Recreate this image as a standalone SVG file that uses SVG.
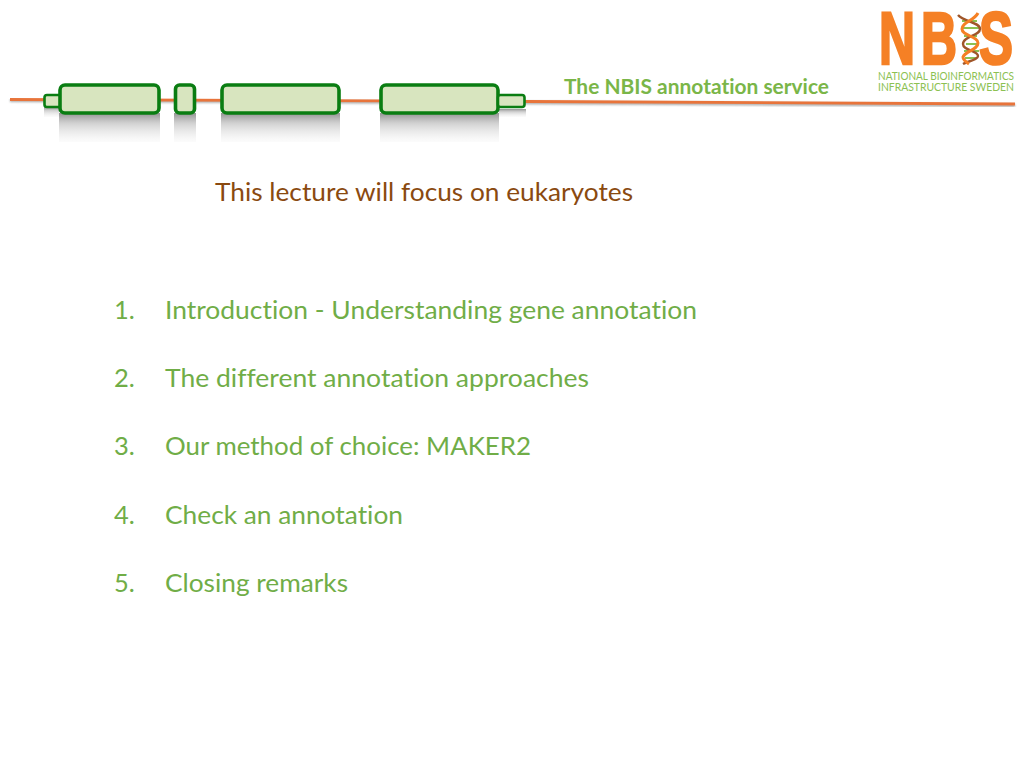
<svg xmlns="http://www.w3.org/2000/svg" width="1024" height="768" viewBox="0 0 1024 768">
<style>
text{font-variant-ligatures:none}
.item{font-family:Lato,"Open Sans","Liberation Sans",sans-serif;font-size:25.5px;fill:#70ad47}
.exon{fill:#d8e5bf;stroke:#0a7d12;stroke-width:3.6}
.utr{fill:#d8e5bf;stroke:#0a7d12;stroke-width:2.6}
.ref{fill:url(#refl)}
.tag{font-family:Lato,"Open Sans","Liberation Sans",sans-serif;font-size:11px;fill:#8cc152}
.big{font-family:"Liberation Sans",sans-serif;font-weight:700;font-size:74px;fill:#f58025;stroke:#f58025;stroke-width:2.6}
</style>
<defs>
<linearGradient id="refl" x1="0" y1="0" x2="0" y2="1">
<stop offset="0" stop-color="#808080" stop-opacity=".85"/>
<stop offset=".35" stop-color="#b8b8b8" stop-opacity=".65"/>
<stop offset="1" stop-color="#e8e8e8" stop-opacity=".15"/>
</linearGradient>
<filter id="soft" x="-5%" y="-20%" width="110%" height="140%"><feGaussianBlur stdDeviation="0.8"/></filter>
</defs>
<rect width="1024" height="768" fill="#fff"/>
<g id="rule">
<path d="M10 100.500L530 102.800L1015 105.500" fill="none" stroke="#aaa" stroke-width="3" filter="url(#soft)"/>
<path d="M10 99.500L530 101.500L1015 104" fill="none" stroke="#e8743b" stroke-width="2.800"/>
</g>
<g id="reflections">
<rect class="ref" x="59" y="113" width="101" height="29"/>
<rect class="ref" x="174" y="113" width="22" height="29"/>
<rect class="ref" x="221" y="113" width="119" height="29"/>
<rect class="ref" x="380" y="113" width="119" height="29"/>
<rect class="ref" x="44" y="107" width="15" height="10"/>
<rect class="ref" x="499" y="109" width="27" height="8"/>
</g>
<g id="gene">
<rect id="utr-left" class="utr" x="44.500" y="95" width="18" height="12" rx="2.500"/>
<rect id="exon-1" class="exon" x="60" y="85" width="99" height="28" rx="5"/>
<rect id="exon-2" class="exon" x="175.500" y="85" width="19" height="28" rx="4"/>
<rect id="exon-3" class="exon" x="222" y="85" width="117" height="28" rx="5"/>
<rect id="exon-4" class="exon" x="381" y="85" width="117" height="28" rx="5"/>
<rect id="utr-right" class="utr" x="498" y="95" width="26.500" height="12" rx="2.500"/>
</g>
<g id="logo">
<text class="big" x="879" y="64" textLength="36" lengthAdjust="spacingAndGlyphs">N</text>
<text class="big" x="921" y="64" textLength="36" lengthAdjust="spacingAndGlyphs">B</text>
<text class="big" x="979" y="64" textLength="34" lengthAdjust="spacingAndGlyphs">S</text>
<g id="helix" fill="none">
<path d="M962 21H977M961 28H981M964 36H977M966 44H979M964 51H979M965 58H976" stroke="#8cc152" stroke-width="2.200"/>
<path d="M958 15C964 22 980 22 980 29C980 36 963 36 963 44C963 51 978 50 978 56C978 60 968 61 963 64" stroke="#a0562a" stroke-width="2.400"/>
<path d="M978 13C974 21 962 22 962 29C962 36 978 36 978 43C978 50 965 51 963 57C963 60 966 62 969 64" stroke="#f58025" stroke-width="3"/>
</g>
<text class="tag" x="878" y="80" textLength="136" lengthAdjust="spacingAndGlyphs">NATIONAL BIOINFORMATICS</text>
<text class="tag" x="878" y="91" textLength="136" lengthAdjust="spacingAndGlyphs">INFRASTRUCTURE SWEDEN</text>
</g>
<text x="564" y="94" font-family="Lato,'Open Sans','Liberation Sans',sans-serif" font-weight="700" font-size="20.500px" fill="#7ab648" textLength="265" lengthAdjust="spacingAndGlyphs">The NBIS annotation service</text>
<text x="215" y="201" font-family="Lato,'Open Sans','Liberation Sans',sans-serif" font-size="25.500px" fill="#8a4a10" textLength="418" lengthAdjust="spacingAndGlyphs">This lecture will focus on eukaryotes</text>
<g id="list">
<text class="item" x="114" y="319">1.</text><text class="item" x="165" y="319" textLength="532" lengthAdjust="spacingAndGlyphs">Introduction - Understanding gene annotation</text>
<text class="item" x="114" y="387">2.</text><text class="item" x="165" y="387" textLength="424" lengthAdjust="spacingAndGlyphs">The different annotation approaches</text>
<text class="item" x="114" y="455">3.</text><text class="item" x="165" y="455" textLength="366" lengthAdjust="spacingAndGlyphs">Our method of choice: MAKER2</text>
<text class="item" x="114" y="524">4.</text><text class="item" x="165" y="524" textLength="238" lengthAdjust="spacingAndGlyphs">Check an annotation</text>
<text class="item" x="114" y="592">5.</text><text class="item" x="165" y="592" textLength="183" lengthAdjust="spacingAndGlyphs">Closing remarks</text>
</g>
</svg>
